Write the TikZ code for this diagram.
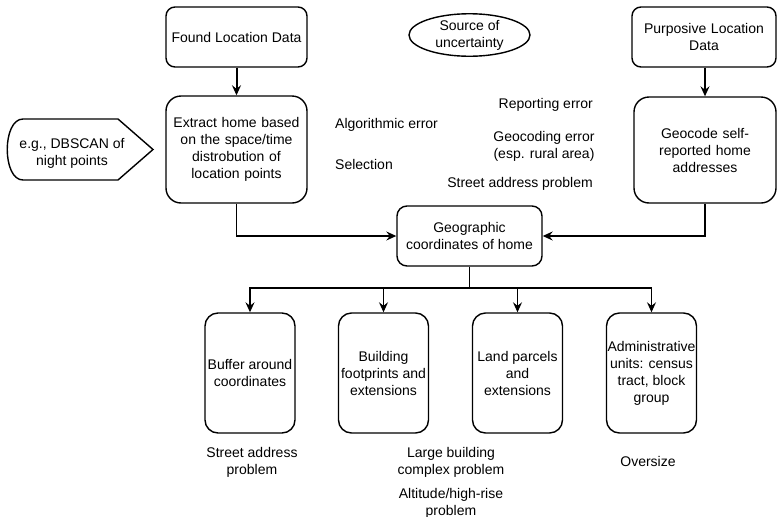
\documentclass[tikz,border=0pt]{standalone}
\usepackage{fontspec}
\setmainfont{Liberation Sans}
\usetikzlibrary{arrows.meta,shapes.geometric}
\begin{document}
\begin{tikzpicture}[x=1pt,y=-1pt,
  font=\fontsize{14}{17}\selectfont,
  box/.style={draw,line width=1.4pt,rectangle,rounded corners=#1,align=center,inner sep=2pt},
  box/.default=9pt,
  lbl/.style={align=center,inner sep=0pt},
  arr/.style={-{Stealth[length=10pt,width=9pt,inset=3.5pt]},line width=1.3pt}]
\useasboundingbox (0,0) rectangle (777,517);
% top row
\node[box, minimum width=141pt, minimum height=60pt] (found) at (236.5,37) {Found Location Data};
\node[box=15pt, minimum width=141pt, minimum height=107pt, text width=134pt] (extract) at (236.5,149.5)
  {Extract home based\\on the space/time\\distrobution of\\location points};
\node[box, minimum width=144pt, minimum height=60pt, text width=138pt] (purp) at (704,37) {Purposive Location\\Data};
\node[box=15pt, minimum width=142pt, minimum height=106pt, text width=134pt] (geocode) at (705,150)
  {Geocode self-\\reported home\\addresses};
\node[draw,line width=1.4pt,ellipse,minimum width=121pt,minimum height=36pt,inner sep=0pt,align=center] (src) at (469.5,35)
  {Source of\\uncertainty};
% callout
\draw[line width=1.4pt] (23,119) -- (118,119) -- (153,149.5) -- (118,180) -- (23,180)
  .. controls (2,180) and (2,119) .. (23,119) -- cycle;
\node[lbl] (hint) at (72,153) {e.g., DBSCAN of\\night points};
% uncertainty texts
\node[lbl,anchor=west] (alg) at (335,125) {Algorithmic error};
\node[lbl,anchor=west] (sel) at (335,164) {Selection};
\node[lbl,anchor=east] (rep) at (593,105) {Reporting error};
\node[lbl] (geoerr) at (544,146) {Geocoding error\\(esp. rural area)};
\node[lbl,anchor=east] (street) at (593,184) {Street address problem};
% middle
\node[box=10pt, minimum width=145pt, minimum height=60pt] (geo) at (469.5,236)
  {Geographic\\coordinates of home};
% bottom boxes
\foreach \n/\x/\t in {b1/250/{Buffer around\\coordinates},
                      b2/383.5/{Building\\footprints and\\extensions},
                      b3/517.5/{Land parcels\\and\\extensions},
                      b4/651.5/{Administrative\\units: census\\tract, block\\group}}
  \node[box=13pt, minimum width=90pt, minimum height=120pt, inner sep=1pt] (\n) at (\x,373) {\t};
% bottom labels
\node[lbl] (l1) at (252,462) {Street address\\problem};
\node[lbl] (l2) at (451,462) {Large building\\complex problem};
\node[lbl] (l3) at (451,503) {Altitude/high-rise\\problem};
\node[lbl] (l4) at (648,461) {Oversize};
% connectors
\draw[arr,line width=2pt] (found.south) -- (extract.north);
\draw[arr] (purp.south -| geocode.north) -- (geocode.north);
\draw[arr] (extract.south) |- (geo.west);
\draw[arr] (geocode.south) |- (geo.east);
\coordinate (hub) at (469.5,288);
\draw[line width=1.3pt] (geo.south) -- (hub);
\foreach \n in {b1,b2,b3,b4}
  \draw[arr] (hub) -| (\n.north);
\end{tikzpicture}
\end{document}
